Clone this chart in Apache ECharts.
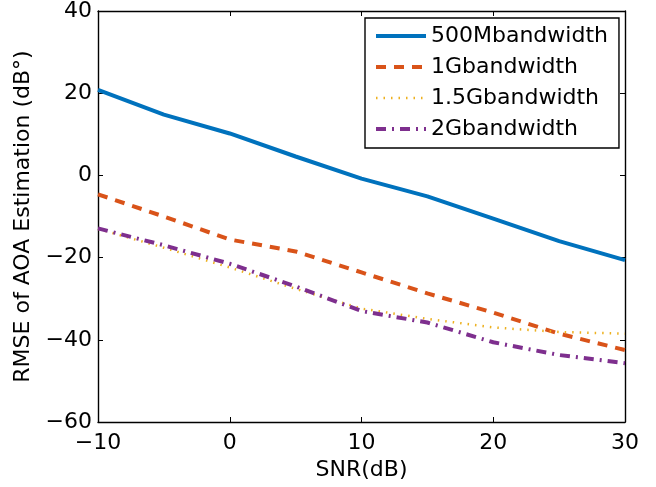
<!DOCTYPE html>
<html>
<head>
<meta charset="utf-8">
<script src="https://cdn.jsdelivr.net/npm/echarts@6/dist/echarts.min.js"></script>
<style>html,body{margin:0;padding:0;background:#fff}#c{width:656px;height:487px}</style>
</head>
<body>
<div id="c"></div>
<script>
var snr = [-10, -5, 0, 5, 10, 15, 20, 25, 30];
var names = ['500Mbandwidth', '1Gbandwidth', '1.5Gbandwidth', '2Gbandwidth'];
var bw500M = [20.8, 14.8, 10.2, 4.6, -0.8, -5.1, -10.5, -16.0, -20.6];
var bw1G = [-4.6, -10.0, -15.6, -18.5, -23.6, -28.7, -33.4, -38.5, -42.5];
var bw1_5G = [-13.0, -17.6, -22.4, -27.6, -32.4, -34.9, -37.0, -38.1, -38.5];
var bw2G = [-12.9, -17.0, -21.5, -27.0, -33.0, -35.8, -40.6, -43.7, -45.7];
var xTicks = [-10, 0, 10, 20, 30];
var yTicks = [-60, -40, -20, 0, 20, 40];

function pairs(ys) { return snr.map(function (x, i) { return [x, ys[i]]; }); }
function minus(v) { return String(v).replace('-', '\u2212'); }

var FONT = 'DejaVu Sans, Liberation Sans, sans-serif';
var FS = 22;
var colors = ['#0072BD', '#D95319', '#EDB120', '#7E2F8E'];
var styles = [
  { width: 4, type: 'solid' },
  { width: 4, type: [10, 8], cap: 'butt' },
  { width: 2.5, type: [1.5, 6], cap: 'butt' },
  { width: 4, type: [10, 6, 2, 6], cap: 'butt' }
];
var chart = echarts.init(document.getElementById('c'));
var axisCommon = {
  axisLine: { show: true, onZero: false, lineStyle: { color: '#000', width: 1.4 } },
  axisTick: { show: true, inside: true, length: 5, lineStyle: { color: '#000', width: 1 } },
  splitLine: { show: false }
};
chart.setOption({
  animation: false,
  backgroundColor: '#fff',
  grid: { left: 98, right: 31, top: 10, bottom: 65 },
  legend: {
    orient: 'vertical',
    left: 365, top: 18,
    padding: [7, 11, 8, 9],
    itemGap: 9,
    itemWidth: 50, itemHeight: 14,
    borderColor: '#000', borderWidth: 1.4,
    backgroundColor: '#fff',
    itemStyle: { opacity: 0, borderWidth: 0 },
    textStyle: { fontFamily: FONT, fontSize: FS, lineHeight: 22, color: '#000' },
    data: names.map(function (n, i) {
      return { name: n, lineStyle: Object.assign({ color: colors[i] }, styles[i]) };
    })
  },
  xAxis: [
    Object.assign({
      type: 'value', position: 'bottom', min: xTicks[0], max: xTicks[xTicks.length - 1], interval: 10,
      name: 'SNR(dB)', nameLocation: 'middle', nameGap: 34,
      nameTextStyle: { fontFamily: FONT, fontSize: FS, color: '#000' },
      axisLabel: { fontFamily: FONT, fontSize: FS, color: '#000', margin: 10, formatter: minus }
    }, axisCommon),
    Object.assign({
      type: 'value', position: 'top', min: xTicks[0], max: xTicks[xTicks.length - 1], interval: 10,
      axisLabel: { show: false }
    }, axisCommon)
  ],
  yAxis: [
    Object.assign({
      type: 'value', position: 'left', min: yTicks[0], max: yTicks[yTicks.length - 1], interval: 20,
      name: 'RMSE of AOA Estimation (dB\u00b0)', nameLocation: 'middle', nameGap: 63, nameRotate: 90,
      nameTextStyle: { fontFamily: FONT, fontSize: FS, color: '#000' },
      axisLabel: { fontFamily: FONT, fontSize: FS, color: '#000', margin: 6, formatter: minus }
    }, axisCommon),
    Object.assign({
      type: 'value', position: 'right', min: yTicks[0], max: yTicks[yTicks.length - 1], interval: 20,
      axisLabel: { show: false }
    }, axisCommon)
  ],
  series: [
    { name: names[0], type: 'line', data: pairs(bw500M), symbol: 'none', color: colors[0], lineStyle: styles[0] },
    { name: names[1], type: 'line', data: pairs(bw1G), symbol: 'none', color: colors[1], lineStyle: styles[1] },
    { name: names[2], type: 'line', data: pairs(bw1_5G), symbol: 'none', color: colors[2], lineStyle: styles[2] },
    { name: names[3], type: 'line', data: pairs(bw2G), symbol: 'none', color: colors[3], lineStyle: styles[3] }
  ]
});
</script>
</body>
</html>
